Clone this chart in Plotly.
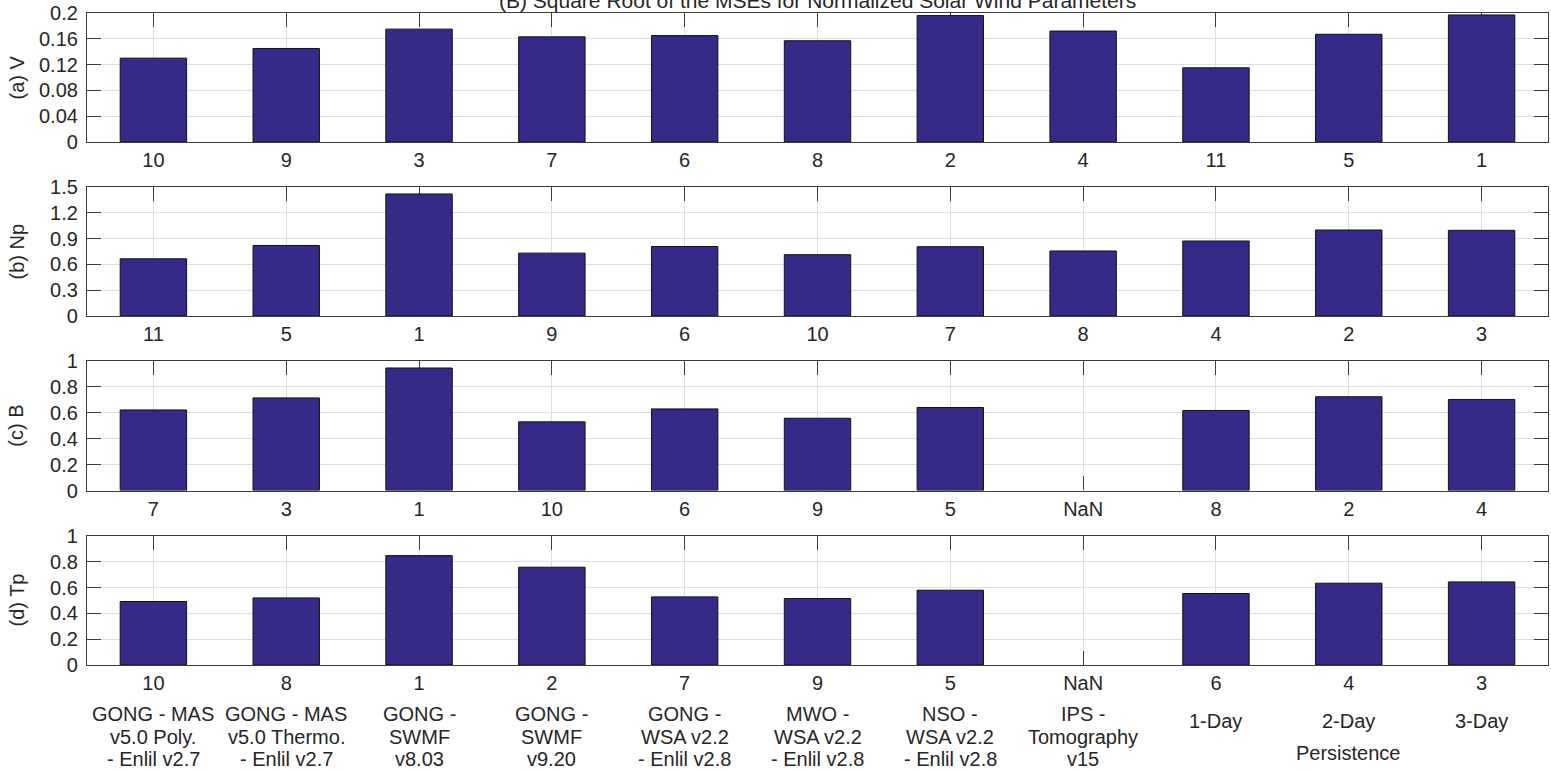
import plotly.graph_objects as go

# ---------------- data ----------------
categories = [
    "GONG - MAS<br>v5.0 Poly.<br>- Enlil v2.7",
    "GONG - MAS<br>v5.0 Thermo.<br>- Enlil v2.7",
    "GONG -<br>SWMF<br>v8.03",
    "GONG -<br>SWMF<br>v9.20",
    "GONG -<br>WSA v2.2<br>- Enlil v2.8",
    "MWO -<br>WSA v2.2<br>- Enlil v2.8",
    "NSO -<br>WSA v2.2<br>- Enlil v2.8",
    "IPS -<br>Tomography<br>v15",
    "1-Day",
    "2-Day",
    "3-Day",
]
group_label = "Persistence"

v_values = [0.130, 0.145, 0.175, 0.163, 0.165, 0.157, 0.196, 0.172, 0.115, 0.167, 0.197]
np_values = [0.665, 0.820, 1.419, 0.731, 0.808, 0.713, 0.806, 0.756, 0.872, 1.000, 0.996]
b_values = [0.622, 0.715, 0.946, 0.530, 0.630, 0.558, 0.641, None, 0.618, 0.724, 0.703]
tp_values = [0.492, 0.520, 0.848, 0.758, 0.528, 0.515, 0.580, None, 0.554, 0.634, 0.644]

v_ranks = ["10", "9", "3", "7", "6", "8", "2", "4", "11", "5", "1"]
np_ranks = ["11", "5", "1", "9", "6", "10", "7", "8", "4", "2", "3"]
b_ranks = ["7", "3", "1", "10", "6", "9", "5", "NaN", "8", "2", "4"]
tp_ranks = ["10", "8", "1", "2", "7", "9", "5", "NaN", "6", "4", "3"]

v_ticks = [0, 0.04, 0.08, 0.12, 0.16, 0.2]
v_ticktext = ["0", "0.04", "0.08", "0.12", "0.16", "0.2"]
np_ticks = [0, 0.3, 0.6, 0.9, 1.2, 1.5]
np_ticktext = ["0", "0.3", "0.6", "0.9", "1.2", "1.5"]
unit_ticks = [0, 0.2, 0.4, 0.6, 0.8, 1.0]
unit_ticktext = ["0", "0.2", "0.4", "0.6", "0.8", "1"]

panel_titles = ["(a) V", "(b) Np", "(c) B", "(d) Tp"]
title_text = "(B) Square Root of the MSEs for Normalized Solar Wind Parameters"

# ---------------- layout helpers ----------------
W, H = 1551, 771
ML, MR, MT, MB = 87, 3, 13, 106
PH = H - MT - MB  # plot height in px
PW = W - ML - MR


def py(px):
    """pixel y (from top) -> paper y"""
    return (H - MB - px) / PH


def pxx(px):
    return (px - ML) / PW


panels_px = [(13, 142), (187, 316), (361, 490.5), (536, 665)]
series = [v_values, np_values, b_values, tp_values]
ranks = [v_ranks, np_ranks, b_ranks, tp_ranks]
yranges = [[0, 0.2], [0, 1.5], [0, 1], [0, 1]]
yticks = [(v_ticks, v_ticktext), (np_ticks, np_ticktext), (unit_ticks, unit_ticktext), (unit_ticks, unit_ticktext)]

FONT = "Liberation Sans, Arial, Helvetica, sans-serif"
TXT = "#262626"
AXC = "#3c3c3c"
GRID = "#dedede"
BAR = "#352A87"
FS = 20

xs = list(range(1, len(categories) + 1))

fig = go.Figure()
for i in range(4):
    n = "" if i == 0 else str(i + 1)
    fig.add_trace(go.Bar(
        x=xs, y=series[i], width=0.5,
        marker=dict(color=BAR, line=dict(color="#111111", width=1)),
        xaxis="x" + n, yaxis="y" + n, showlegend=False, hoverinfo="skip",
    ))
    top, bot = panels_px[i]
    common = dict(
        showline=True, linecolor=AXC, linewidth=1.2, mirror="ticks",
        ticks="inside", ticklen=14, tickwidth=1, tickcolor=AXC,
        showgrid=True, gridcolor=GRID, gridwidth=1, zeroline=False,
        layer="below traces",
        tickfont=dict(family=FONT, size=FS, color=TXT),
    )
    fig.update_layout(**{
        "xaxis" + n: dict(
            common, domain=[0, 1], range=[0.5, 11.5], anchor="y" + n,
            tickmode="array", tickvals=xs, ticktext=ranks[i],
            ticklabelstandoff=0,
        ),
        "yaxis" + n: dict(
            common, domain=[py(bot), py(top)], range=yranges[i], anchor="x" + n,
            tickmode="array", tickvals=yticks[i][0], ticktext=yticks[i][1],
            ticklabelstandoff=4,
        ),
    })
    fig.add_annotation(
        text=panel_titles[i], xref="paper", yref="paper",
        x=pxx(16), y=py((top + bot) / 2), textangle=-90,
        xanchor="center", yanchor="middle", showarrow=False,
        font=dict(family=FONT, size=FS, color=TXT),
    )

# category names under the bottom panel (one annotation per line)
LINE = 22.5
for k, lab in enumerate(categories):
    lines = lab.split("<br>")
    y0 = 714 if len(lines) > 1 else 721
    for j, ln in enumerate(lines):
        fig.add_annotation(
            text=ln, xref="x4", yref="paper", x=xs[k], y=py(y0 + j * LINE),
            xanchor="center", yanchor="middle", showarrow=False,
            font=dict(family=FONT, size=FS, color=TXT),
        )
fig.add_annotation(
    text=group_label, xref="x4", yref="paper", x=10, y=py(753),
    xanchor="center", yanchor="middle", showarrow=False,
    font=dict(family=FONT, size=FS, color=TXT),
)

# title (partially cut by the top edge, as in the reference)
fig.add_annotation(
    text=title_text, xref="paper", yref="paper", x=0.5, y=py(0),
    xanchor="center", yanchor="middle", showarrow=False,
    font=dict(family=FONT, size=21, color=TXT),
)

fig.update_layout(
    width=W, height=H,
    margin=dict(l=ML, r=MR, t=MT, b=MB),
    paper_bgcolor="white", plot_bgcolor="white",
    bargap=0.5, hovermode=False,
)

fig.write_html(
    "out.html",
    config={"displayModeBar": False},
    post_script="document.body.style.margin='0px';document.body.style.overflow='hidden';",
)
